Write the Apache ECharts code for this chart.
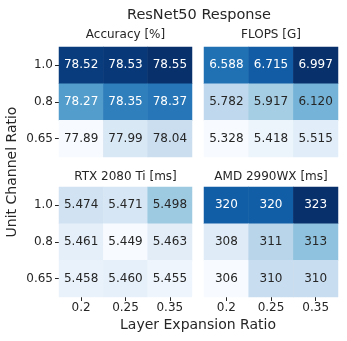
<!DOCTYPE html>
<html>
<head>
<meta charset="utf-8">
<script src="https://cdn.jsdelivr.net/npm/echarts@6/dist/echarts.min.js"></script>
<style>
  html, body { margin: 0; padding: 0; background: #fff; }
  #chart { width: 347px; height: 341px; }
</style>
</head>
<body>
<div id="chart"></div>
<script>
// layer expansion ratio (x) and unit channel ratio (y, top to bottom)
const xCats = ['0.2', '0.25', '0.35'];
const yCats = ['1.0', '0.8', '0.65'];

// rows follow yCats order
const accuracy = [
  [78.52, 78.53, 78.55],
  [78.27, 78.35, 78.37],
  [77.89, 77.99, 78.04]
];
const flops = [
  [6.588, 6.715, 6.997],
  [5.782, 5.917, 6.120],
  [5.328, 5.418, 5.515]
];
const rtx = [
  [5.474, 5.471, 5.498],
  [5.461, 5.449, 5.463],
  [5.458, 5.460, 5.455]
];
const amd = [
  [320, 320, 323],
  [308, 311, 313],
  [306, 310, 310]
];

const titles = ['Accuracy [%]', 'FLOPS [G]', 'RTX 2080 Ti [ms]', 'AMD 2990WX [ms]'];
const decimals = [2, 3, 3, 0];
// colour ranges (rtx uses a wider range, as in the picture)
const ranges = [[77.89, 78.55], [5.328, 6.997], [5.449, 5.58], [306, 323]];

const blues = ['#f7fbff', '#deebf7', '#c6dbef', '#9ecae1', '#6baed6', '#4292c6', '#2171b5', '#08519c', '#08306b'];
const font = 'DejaVu Sans';
const textDark = '#262626';

const grids = [
  { left: 59, top: 47, width: 133, height: 110 },
  { left: 204, top: 47, width: 134, height: 110 },
  { left: 59, top: 187, width: 133, height: 110 },
  { left: 204, top: 187, width: 134, height: 110 }
];

const chart = echarts.init(document.getElementById('chart'));

function buildData(matrix, idx) {
  const [lo, hi] = ranges[idx];
  const out = [];
  matrix.forEach((row, yi) => {
    row.forEach((v, xi) => {
      const t = (v - lo) / (hi - lo);
      out.push({
        value: [xi, yi, v],
        label: { color: t > 0.52 ? '#ffffff' : textDark }
      });
    });
  });
  return out;
}

const mats = [accuracy, flops, rtx, amd];

const xAxes = grids.map((g, i) => ({
  type: 'category',
  gridIndex: i,
  data: xCats,
  axisLine: { show: false },
  axisTick: { show: i >= 2, length: 4, alignWithLabel: true, lineStyle: { color: textDark } },
  axisLabel: { show: i >= 2, color: textDark, fontFamily: font, fontSize: 12, margin: 5 },
  splitLine: { show: false }
}));

const yAxes = grids.map((g, i) => ({
  type: 'category',
  gridIndex: i,
  data: yCats,
  inverse: true,
  axisLine: { show: false },
  axisTick: { show: i % 2 === 0, length: 4, alignWithLabel: true, lineStyle: { color: textDark } },
  axisLabel: { show: i % 2 === 0, color: textDark, fontFamily: font, fontSize: 12, margin: 6 },
  splitLine: { show: false }
}));

const series = mats.map((m, i) => ({
  type: 'heatmap',
  xAxisIndex: i,
  yAxisIndex: i,
  data: buildData(m, i),
  label: {
    show: true,
    fontFamily: font,
    fontSize: 12,
    formatter: p => p.value[2].toFixed(decimals[i])
  },
  itemStyle: { borderWidth: 0 },
  emphasis: { disabled: true }
}));

const visualMaps = mats.map((m, i) => ({
  type: 'continuous',
  show: false,
  seriesIndex: i,
  dimension: 2,
  min: ranges[i][0],
  max: ranges[i][1],
  inRange: { color: blues }
}));

function label(text, x, y, size, rot) {
  return {
    type: 'text',
    x: x,
    y: y,
    rotation: rot || 0,
    style: {
      text: text,
      font: size + 'px "DejaVu Sans"',
      fill: textDark,
      align: 'center',
      verticalAlign: 'middle'
    }
  };
}

const texts = titles.map((t, i) =>
  label(t, grids[i].left + grids[i].width / 2, i < 2 ? 35 : 177, 12));
texts.push(label('ResNet50 Response', 199, 15, 14.5));
texts.push(label('Layer Expansion Ratio', 198, 325, 14));
texts.push(label('Unit Channel Ratio', 12, 172, 14, Math.PI / 2));

chart.setOption({
  animation: false,
  graphic: texts,
  grid: grids,
  xAxis: xAxes,
  yAxis: yAxes,
  visualMap: visualMaps,
  series: series
});
</script>
</body>
</html>
